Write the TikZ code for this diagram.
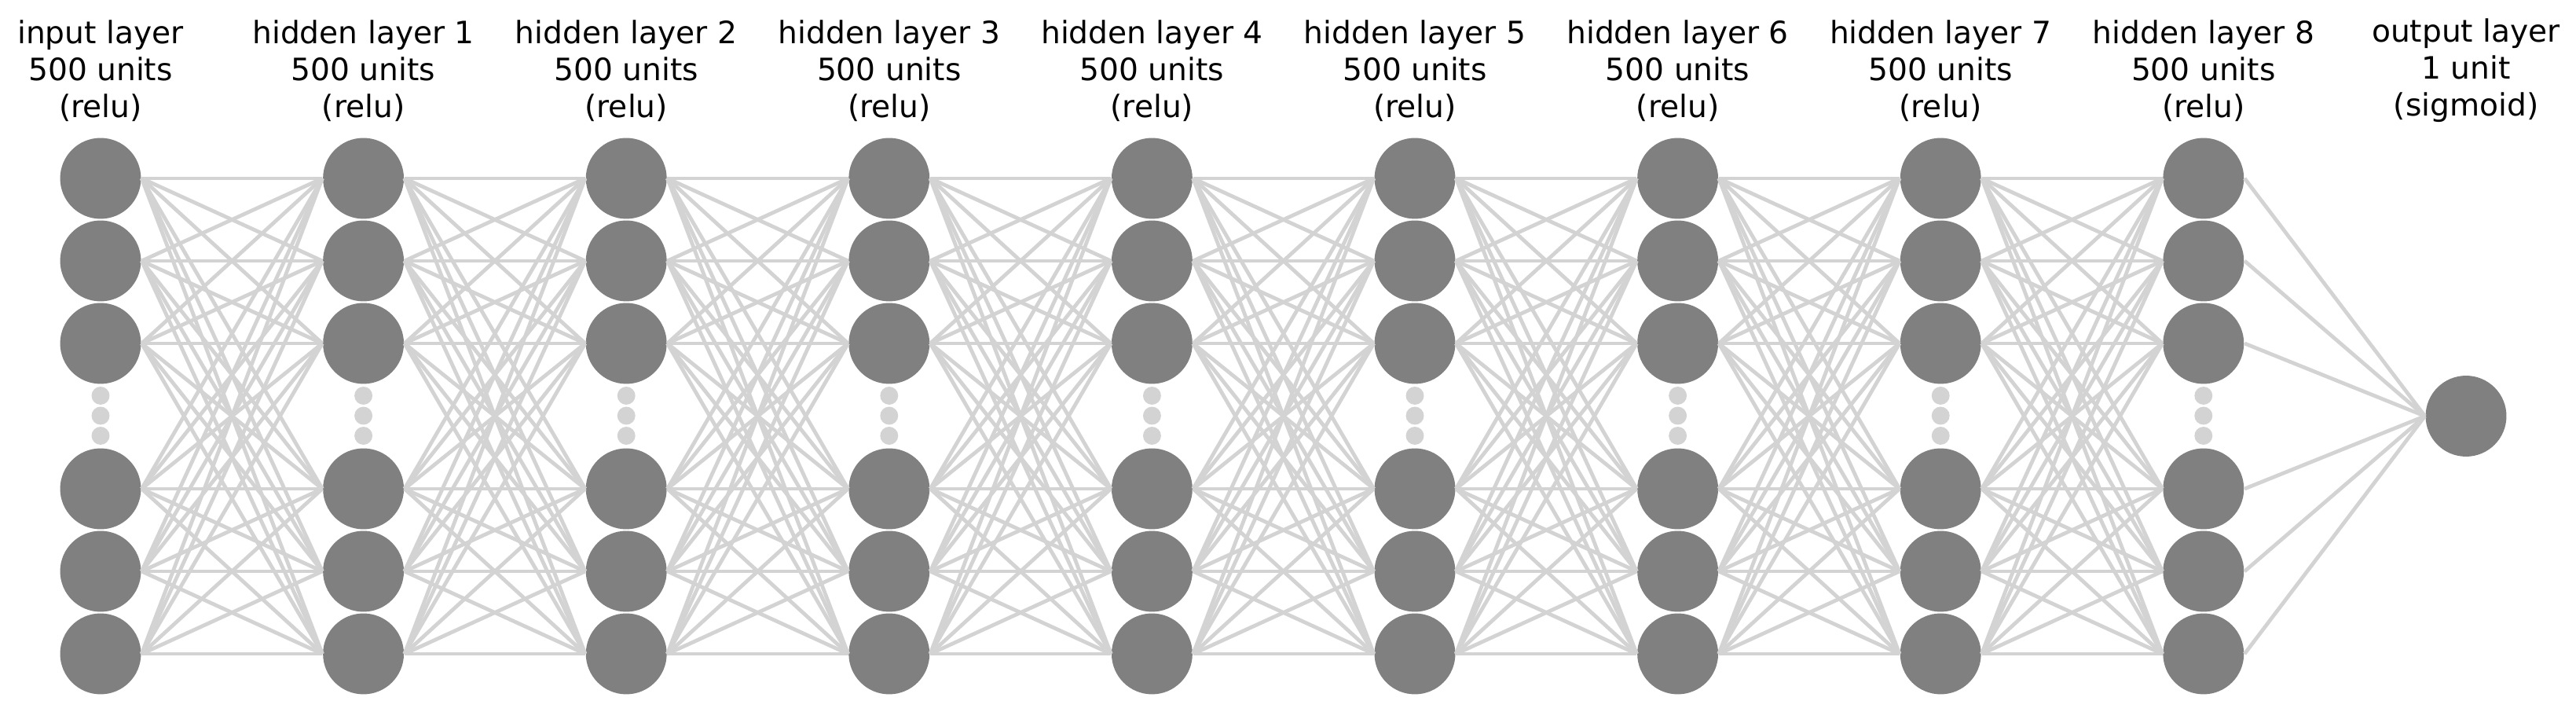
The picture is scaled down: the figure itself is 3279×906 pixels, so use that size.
\documentclass[tikz,border=0pt]{standalone}
\usepackage{fontspec}
\setmainfont{DejaVu Sans}
\definecolor{wirecol}{HTML}{D3D3D3}
\definecolor{unitcol}{HTML}{808080}
\tikzset{
  unit/.style={circle,fill=unitcol,inner sep=0pt,minimum size=24.7pt},
  ellip/.style={circle,fill=wirecol,inner sep=0pt,minimum size=5.5pt},
  wire/.style={draw=wirecol,line width=1.15pt},
  caption/.style={align=center,font=\fontsize{9.4}{11.3}\selectfont}
}

\begin{document}
\begin{tikzpicture}[x=0.24pt,y=-0.24pt]
  \useasboundingbox (0,0) rectangle (3279,906);
  % input layer and hidden layers
  \foreach \l in {0,...,8} {
    \foreach \y [count=\i] in {227,332,437,622,727,832}
      \node [unit] (n\l-\i) at (128+334.6*\l,\y) {};
    \foreach \y [count=\j] in {503.5,529,554.5}
      \node [ellip] (d\l-\j) at (128+334.6*\l,\y) {};
  }
  % output layer
  \node [unit] (out) at (3139,529.5) {};
  % connections
  \foreach \l [evaluate=\l as \m using int(\l+1)] in {0,...,7}
    \foreach \i in {1,...,6}
      \foreach \j in {1,...,6}
        \draw [wire] (n\l-\i.east) -- (n\m-\j.west);
  \foreach \i in {1,...,6}
    \draw [wire] (n8-\i.east) -- (out.west);
  % labels
  \node [caption] (t0) at (128,90) {input layer\\500 units\\(relu)};
  \foreach \l in {1,...,8}
    \node [caption] (t\l) at (128+334.6*\l,90) {hidden layer \l\\500 units\\(relu)};
  \node [caption] (t9) at (3139,90) {output layer\\1 unit\\(sigmoid)};
\end{tikzpicture}
\end{document}
